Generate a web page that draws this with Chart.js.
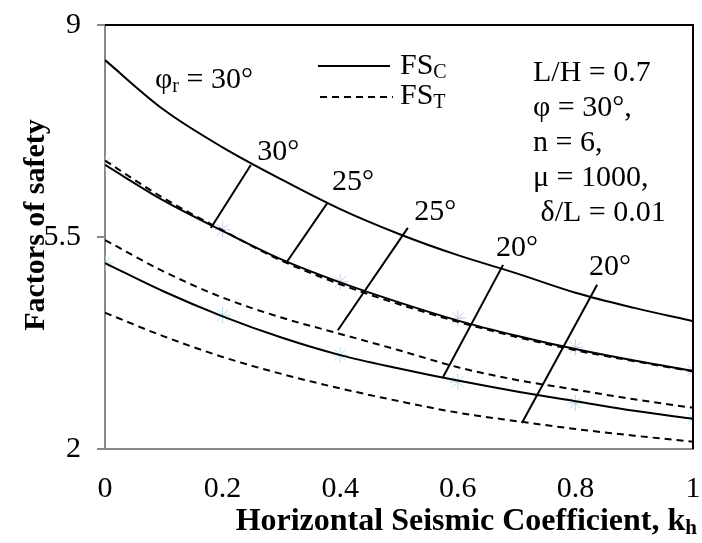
<!DOCTYPE html>
<html>
<head>
<meta charset="utf-8">
<script src="https://cdn.jsdelivr.net/npm/chart.js@4.4.1/dist/chart.umd.min.js"></script>
<style>
  body { margin: 0; background: #fff; }
  #wrap { width: 702px; height: 543px; }
</style>
</head>
<body>
<div id="wrap"><canvas id="chart"></canvas></div>
<script>
// horizontal seismic coefficient
const kh = [0, 0.1, 0.2, 0.3, 0.4, 0.5, 0.6, 0.7, 0.8, 0.9, 1];

// factor of safety curves
const solidTop     = [8.42, 7.60, 6.98, 6.45, 5.96, 5.55, 5.20, 4.90, 4.58, 4.33, 4.11];
const solidMid     = [6.69, 6.10, 5.60, 5.13, 4.75, 4.42, 4.12, 3.87, 3.65, 3.46, 3.29];
const dashedMid    = [6.76, 6.14, 5.61, 5.11, 4.72, 4.39, 4.10, 3.85, 3.63, 3.45, 3.28];
const dashedLow    = [5.45, 4.93, 4.50, 4.17, 3.90, 3.63, 3.35, 3.14, 2.98, 2.82, 2.68];
const solidLow     = [5.07, 4.60, 4.19, 3.84, 3.55, 3.33, 3.13, 2.95, 2.79, 2.63, 2.50];
const dashedBottom = [4.25, 3.86, 3.52, 3.24, 3.00, 2.79, 2.60, 2.46, 2.33, 2.22, 2.12];

// faint star markers
const markerK     = [0, 0.2, 0.4, 0.6, 0.8, 1];
const markerUpper = [6.72, 5.62, 4.76, 4.16, 3.68, 3.30];
const markerLower = [5.07, 4.21, 3.55, 3.11, 2.76, 2.50];

// short connector lines for the phi_r labels
const connectorK  = [[0.248, 0.180], [0.378, 0.308], [0.515, 0.396], [0.677, 0.575], [0.837, 0.709]];
const connectorFS = [[6.69, 5.65], [6.06, 5.07], [5.65, 3.96], [5.04, 3.19], [4.71, 2.43]];
const angleLabels = ['30°', '25°', '25°', '20°', '20°'];

const yTicks = [2, 5.5, 9];

const serif = '"Liberation Serif", "Times New Roman", serif';
const pts = (xs, ys) => xs.map((x, i) => ({ x: x, y: ys[i] }));

const curve = (data, dashed) => ({
  data: pts(kh, data),
  borderColor: '#000',
  borderWidth: 2,
  borderDash: dashed ? [7, 5] : [],
  pointRadius: 0,
  cubicInterpolationMode: 'monotone',
  fill: false,
});

const datasets = [
  curve(solidTop, false),
  curve(solidMid, false),
  curve(dashedMid, true),
  curve(dashedLow, true),
  curve(solidLow, false),
  curve(dashedBottom, true),
];

connectorK.forEach((ks, i) => {
  datasets.push({
    data: pts(ks, connectorFS[i]),
    borderColor: '#000',
    borderWidth: 2,
    pointRadius: 0,
    fill: false,
  });
});

// markers last so they are drawn underneath
datasets.push({
  data: pts(markerK, markerUpper),
  showLine: false,
  pointStyle: 'star',
  pointRadius: 8,
  borderWidth: 1,
  borderColor: '#cfc8e4',
  backgroundColor: '#cfc8e4',
});
datasets.push({
  data: pts(markerK, markerLower),
  showLine: false,
  pointStyle: 'star',
  pointRadius: 8,
  borderWidth: 1,
  borderColor: '#b4dce8',
  backgroundColor: '#b4dce8',
});

function subText(ctx, x, y, main, sub, size, bold, after) {
  const w = bold ? 'bold ' : '';
  ctx.font = w + size + 'px ' + serif;
  ctx.fillText(main, x, y);
  let cx = x + ctx.measureText(main).width;
  ctx.font = w + Math.round(size * 0.65) + 'px ' + serif;
  ctx.fillText(sub, cx, y + size * 0.22);
  cx += ctx.measureText(sub).width;
  if (after) {
    ctx.font = w + size + 'px ' + serif;
    ctx.fillText(after, cx, y);
  }
}

const decorations = {
  id: 'decorations',
  afterDraw(chart) {
    const { ctx, chartArea: a, scales } = chart;
    const sx = scales.x, sy = scales.y;
    ctx.save();

    // black top and right frame
    ctx.strokeStyle = '#000';
    ctx.lineWidth = 2;
    ctx.beginPath();
    ctx.moveTo(a.left, a.top);
    ctx.lineTo(a.right, a.top);
    ctx.lineTo(a.right, a.bottom);
    ctx.stroke();

    ctx.fillStyle = '#000';
    ctx.textBaseline = 'middle';
    ctx.textAlign = 'left';

    // legend
    ctx.lineWidth = 2;
    ctx.beginPath();
    ctx.moveTo(318, 66); ctx.lineTo(390, 66);
    ctx.stroke();
    ctx.setLineDash([7, 5]);
    ctx.beginPath();
    ctx.moveTo(320, 97); ctx.lineTo(393, 97);
    ctx.stroke();
    ctx.setLineDash([]);
    subText(ctx, 400, 66, 'FS', 'C', 30, false);
    subText(ctx, 400, 96, 'FS', 'T', 30, false);

    // parameters
    ctx.font = '30px ' + serif;
    ['L/H = 0.7', 'φ = 30°,', 'n = 6,', 'μ = 1000,', ' δ/L = 0.01'].forEach((t, i) => {
      ctx.fillText(t, 533, 73 + 35 * i);
    });

    // phi_r label
    subText(ctx, 155, 80, 'φ', 'r', 30, false, ' = 30°');

    // angle labels near the connectors
    const labelPos = [[0.259, 6.90], [0.386, 6.41], [0.526, 5.91], [0.665, 5.32], [0.823, 5.00]];
    ctx.font = '30px ' + serif;
    angleLabels.forEach((t, i) => {
      ctx.fillText(t, sx.getPixelForValue(labelPos[i][0]), sy.getPixelForValue(labelPos[i][1]));
    });

    // axis titles
    ctx.font = 'bold 30px ' + serif;
    ctx.save();
    ctx.translate(36, 225);
    ctx.rotate(-Math.PI / 2);
    ctx.textAlign = 'center';
    ctx.fillText('Factors of safety', 0, 0);
    ctx.restore();

    const main = 'Horizontal Seismic Coefficient, k';
    ctx.font = 'bold 32px ' + serif;
    const w1 = ctx.measureText(main).width;
    ctx.font = 'bold 21px ' + serif;
    const w2 = ctx.measureText('h').width;
    subText(ctx, 697 - w1 - w2, 522, main, 'h', 32, true);

    ctx.restore();
  }
};

new Chart(document.getElementById('chart'), {
  type: 'line',
  data: { datasets: datasets },
  options: {
    responsive: true,
    maintainAspectRatio: false,
    animation: false,
    layout: { padding: { left: 0, right: 9, top: 25, bottom: 0 } },
    plugins: {
      legend: { display: false },
      tooltip: { enabled: false },
    },
    scales: {
      x: {
        type: 'linear',
        min: 0,
        max: 1,
        afterFit: (s) => {
          s.height = 94;
          s.paddingLeft = 0;
          s.paddingRight = 0;
        },
        border: { color: '#888', width: 2 },
        grid: { drawOnChartArea: false, drawTicks: false },
        ticks: {
          stepSize: 0.2,
          padding: 22,
          color: '#000',
          font: { family: serif, size: 30 },
          callback: (v) => String(+v.toFixed(1)),
        },
      },
      y: {
        min: 2,
        max: 9,
        afterFit: (s) => {
          s.width = 105;
          s.paddingTop = 0;
          s.paddingBottom = 0;
        },
        afterBuildTicks: (s) => { s.ticks = yTicks.map((v) => ({ value: v })); },
        border: { color: '#888', width: 2 },
        grid: { drawOnChartArea: false, drawTicks: true, tickLength: 8, color: '#888', lineWidth: 2 },
        ticks: {
          padding: 16,
          color: '#000',
          font: { family: serif, size: 30 },
          callback: (v) => String(v),
        },
      },
    },
  },
  plugins: [decorations],
});
</script>
</body>
</html>
